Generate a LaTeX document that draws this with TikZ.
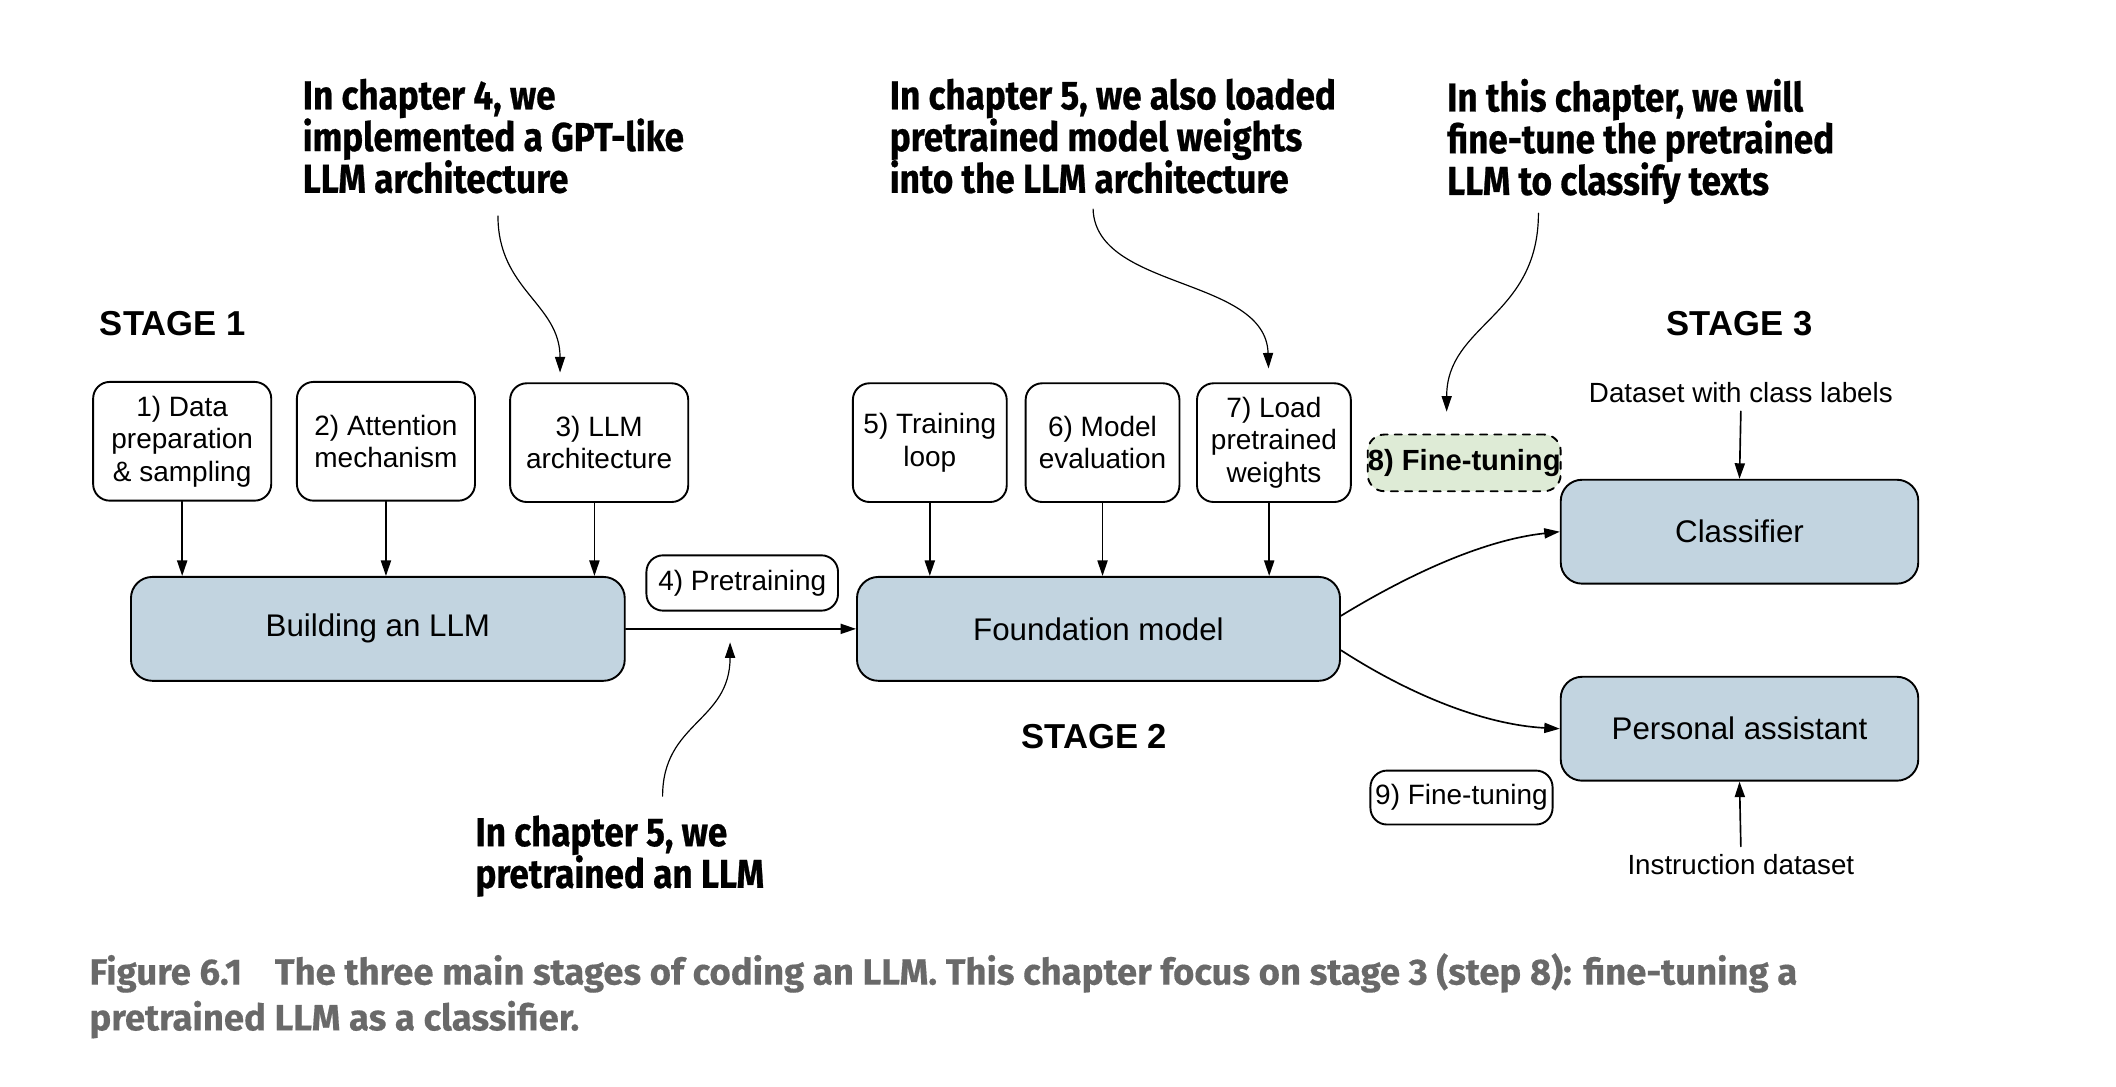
\documentclass[tikz,border=0pt]{standalone}
\usepackage{fontspec}
\setmainfont{Liberation Sans}
\newfontfamily\notefont[FakeStretch=0.87,FakeBold=0.6]{Fira Sans}
\newfontfamily\capfont[FakeBold=0.4]{Fira Sans}
\usetikzlibrary{arrows.meta}
\definecolor{boxblue}{RGB}{194,212,224}
\definecolor{tunegreen}{RGB}{222,235,214}
\definecolor{capgray}{RGB}{105,105,105}

\begin{document}
\begin{tikzpicture}[x=0.02cm,y=-0.02cm,>={Triangle[length=2.3mm,width=1.5mm]},line cap=round,
  stepbox/.style={draw,rounded corners=7pt,line width=0.8pt,fill=white,align=center,
    inner sep=1pt,minimum height=1.76cm,font=\fontsize{11.8}{13.7}\selectfont},
  bigbox/.style={draw,rounded corners=9pt,line width=0.8pt,fill=boxblue,
    minimum height=1.54cm,font=\fontsize{13.2}{15}\selectfont},
  tagbox/.style={draw,rounded corners=7pt,line width=0.8pt,fill=white,inner sep=1pt,
    minimum height=0.82cm,font=\fontsize{11.8}{13.7}\selectfont},
  stagelabel/.style={font=\bfseries\fontsize{14.6}{16}\selectfont},
  note/.style={anchor=north west,align=left,inner sep=0pt,
    font=\notefont\bfseries\fontsize{17}{17.6}\selectfont},
  feed/.style={->,line width=0.7pt},
  hint/.style={->,line width=0.5pt}]
\useasboundingbox (0,0) rectangle (1568,805);

% stage 1
\node[stagelabel] (stage1) at (128,240) {STAGE 1};
\node[stepbox,minimum width=2.64cm] (data) at (135,327) {1) Data\\preparation\\\& sampling};
\node[stepbox,minimum width=2.64cm] (attn) at (286,327) {2) Attention\\mechanism};
\node[stepbox,minimum width=2.64cm] (arch) at (444,328) {3) LLM\\architecture};
\node[bigbox,minimum width=7.32cm] (build) at (280,466) {Building an LLM};
\draw[feed] (data.south) -- (data.south |- build.north);
\draw[feed] (attn.south) -- (attn.south |- build.north);
\draw[feed] ([xshift=-2pt]arch.south) -- ([xshift=-2pt]arch.south |- build.north);

% stage 2
\node[tagbox,minimum width=2.84cm] (pretrain) at (550,432) {4) Pretraining};
\node[bigbox,minimum width=7.16cm] (found) at (814,466) {Foundation model};
\node[stepbox,minimum width=2.28cm] (loop) at (689,328) {5) Training\\loop};
\node[stepbox,minimum width=2.28cm] (eval) at (817,328) {6) Model\\evaluation};
\node[stepbox,minimum width=2.28cm] (load) at (944,328) {7) Load\\pretrained\\weights};
\node[stagelabel] (stage2) at (811,546) {STAGE 2};
\draw[feed] (build.east) -- (found.west);
\draw[feed] (loop.south) -- (loop.south |- found.north);
\draw[feed] (eval.south) -- (eval.south |- found.north);
\draw[feed] ([xshift=-2pt]load.south) -- ([xshift=-2pt]load.south |- found.north);

% stage 3
\node[stagelabel] (stage3) at (1289,240) {STAGE 3};
\node[tagbox,dashed,fill=tunegreen,minimum width=2.86cm,minimum height=0.84cm,inner sep=0pt,
  font=\bfseries\fontsize{12.3}{13.7}\selectfont] (tune8) at (1085,343) {8) Fine-tuning};
\node[bigbox,minimum width=5.3cm] (clf) at (1289,394) {Classifier};
\node[bigbox,minimum width=5.3cm] (assist) at (1289,540) {Personal assistant};
\node[tagbox,minimum width=2.7cm,minimum height=0.8cm] (tune9) at (1083,591) {9) Fine-tuning};
\node[font=\fontsize{11.7}{13}\selectfont] (clsdata) at (1290,291) {Dataset with class labels};
\node[font=\fontsize{11.7}{13}\selectfont] (instdata) at (1290,641) {Instruction dataset};
\draw[feed] (clsdata.south) -- (clf.north);
\draw[feed] (instdata.north) -- (assist.south);
\draw[feed] ([yshift=5.5pt]found.east) .. controls (1045,425) and (1100,400) .. (clf.west);
\draw[feed] ([yshift=-9pt]found.east) .. controls (1045,515) and (1100,537) .. (assist.west);

% notes
\node[note] (note4) at (224,58) {In chapter 4, we\\implemented a GPT-like\\LLM architecture};
\node[note] (note5) at (659,58) {In chapter 5, we also loaded\\pretrained model weights\\into the LLM architecture};
\node[note] (note8) at (1072,58) {In this chapter, we will\\fine-tune the pretrained\\LLM to classify texts};
\node[note] (note5b) at (352,604) {In chapter 5, we\\pretrained an LLM};
\coordinate (a4) at (369,160);
\coordinate (b4) at (415,276);
\coordinate (a5) at (810,155);
\coordinate (b5) at (940,273);
\coordinate (a8) at (1140,158);
\coordinate (b8) at (1072,305);
\coordinate (a5b) at (491,590);
\coordinate (b5b) at (541,476);
\draw[hint] (a4) .. controls (369,215) and (415,225) .. (b4);
\draw[hint] (a5) .. controls (812,215) and (938,205) .. (b5);
\draw[hint] (a8) .. controls (1140,235) and (1072,240) .. (b8);
\draw[hint] (a5b) .. controls (491,535) and (541,535) .. (b5b);

% caption
\node[anchor=north west,align=left,inner sep=0pt,text=capgray,
  font=\capfont\bfseries\fontsize{15.4}{19.3}\selectfont] (caption) at (66,706)
  {Figure 6.1\hspace{0.9em}The three main stages of coding an LLM. This chapter focus on stage 3 (step 8): fine-tuning a\\pretrained LLM as a classifier.};
\end{tikzpicture}
\end{document}
